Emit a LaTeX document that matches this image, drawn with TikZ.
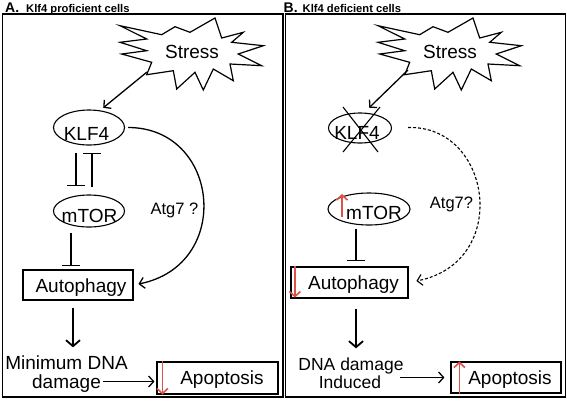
\documentclass[tikz,border=0pt]{standalone}
\usepackage{fontspec}
\setmainfont{Liberation Sans}
\usetikzlibrary{arrows.meta,shapes.geometric,calc}
\definecolor{redarr}{RGB}{218,82,72}
\newcommand\offtxt[3]{\makebox[0pt]{\hspace*{#1}\hspace*{#1}\raisebox{#2}{#3}}}
\tikzset{
  burst/.pic={\draw[line width=1.2pt, line join=miter]
    (-72,-26.3) -- (-30.3,-17.3) -- (-17,-25.3) -- (-2,-19.7) -- (23,-34) -- (29.7,-14)
    -- (51.3,-19.7) -- (39.7,-9.7) -- (71.3,-6.3) -- (46.3,2) -- (69.7,13.7) -- (38,12)
    -- (41.3,28.7) -- (21.3,17) -- (11.3,38) -- (3,20.3) -- (-15.3,37) -- (-18.7,18.7)
    -- (-45.3,22.7) -- (-40.3,10.3) -- (-70.3,2) -- (-45.3,-1.3) -- (-72,-9.7) -- (-45.3,-13) -- cycle;}
}
\begin{document}
\begin{tikzpicture}[x=1pt,y=-1pt,
  txt/.style={inner sep=0pt, font=\fontsize{19}{21}\selectfont, text height=13.7pt, text depth=0pt},
  smalltxt/.style={inner sep=0pt, font=\fontsize{17.5}{20}\selectfont, text height=12.5pt, text depth=0pt},
  atgtxt/.style={inner sep=0pt, font=\fontsize{16.5}{19}\selectfont, text height=11.8pt, text depth=0pt},
  ell/.style={txt, draw, ellipse, line width=1.1pt},
  box/.style={txt, draw, rectangle, line width=1.1pt},
  panel/.style={line width=1.2pt},
  title/.style={inner sep=0pt, anchor=base west, font=\bfseries\fontsize{11.2}{12}\selectfont},
  arr/.style={line width=1.3pt, -{Straight Barb[length=5pt,width=11pt]}},
  darr/.style={line width=1.8pt, -{Straight Barb[length=6pt,width=14pt]}},
  dasharr/.style={line width=1.1pt, dash pattern=on 3pt off 2pt, -{Straight Barb[length=5pt,width=11pt]}},
  inh/.style={line width=1.2pt, -{Bar[width=18pt]}},
  redup/.style={redarr, line width=1.6pt, -{Straight Barb[length=5pt,width=11pt]}}
]
\useasboundingbox (0,0) rectangle (567,400);

% panels and titles
\draw[panel] (2.5,14) rectangle (283,397);
\draw[panel] (285.5,14) rectangle (565.5,397);
\node[title] (titA) at (5,12) {{\fontsize{14}{14}\selectfont A.}\hspace{7pt}Klf4 proficient cells};
\node[title] (titB) at (283.5,12) {{\fontsize{14}{14}\selectfont B.}\hspace{5pt}Klf4 deficient cells};

% ---------------- Panel A ----------------
\node[txt] (stressA) at (192,52) {Stress};
\pic at (stressA.center) {burst};
\node[ell, minimum width=71pt, minimum height=35pt] (klfA) at (89,127.5) {\offtxt{-2.5pt}{-6pt}{KLF4}};
\node[ell, minimum width=71pt, minimum height=32pt] (mtorA) at (89,211) {\offtxt{0.5pt}{-5pt}{mTOR}};
\node[box, minimum width=110pt, minimum height=30pt] (autoA) at (78,285) {\offtxt{3pt}{-1pt}{Autophagy}};
\node[atgtxt] (atgA) at (174.5,209) {Atg7 ?};
\node[txt] (dnaA1) at (66.5,363) {Minimum DNA};
\node[txt] (dnaA2) at (66.5,381.5) {damage};
\node[box, minimum width=121pt, minimum height=32pt] (apopA) at (217.5,378) {\offtxt{4.5pt}{0pt}{Apoptosis}};

\draw[arr, shorten >=4pt] ($(stressA.center)+(-45,20)$) -- (klfA.57);
\draw[inh] ([xshift=-13pt,yshift=-7pt]klfA.south) -- ([xshift=-13pt,yshift=8pt]mtorA.north);
\draw[inh] ([xshift=3pt,yshift=7pt]mtorA.north) -- ([xshift=3pt,yshift=-7pt]klfA.south);
\draw[inh] ([xshift=-18pt,yshift=-5pt]mtorA.south) -- ([xshift=-7pt,yshift=3pt]autoA.north);
\draw[arr, shorten <=3pt, shorten >=5pt] (klfA.east) .. controls +(95,0) and +(100,-20) .. (autoA.east);
\draw[darr] ([xshift=-5pt,yshift=-7pt]autoA.south) -- ([xshift=6.5pt,yshift=8.6pt]dnaA1.north);
\draw[arr, shorten <=2pt, shorten >=2pt] (dnaA2.east) -- (dnaA2.east -| apopA.west);
\draw[redup] ([xshift=6pt]apopA.north west) -- ([xshift=6pt]apopA.south west);

% ---------------- Panel B ----------------
\node[txt] (stressB) at (450,52) {Stress};
\pic at (stressB.center) {burst};
\node[ell, minimum width=63pt, minimum height=30pt] (klfB) at (360,128) {\offtxt{-3pt}{-5pt}{KLF4}};
\draw[line width=1.1pt] ([shift={(-17,-21)}]klfB.center) -- ([shift={(18,24)}]klfB.center);
\draw[line width=1.1pt] ([shift={(20,-21)}]klfB.center) -- ([shift={(-17,24)}]klfB.center);
\node[ell, minimum width=82pt, minimum height=32pt] (mtorB) at (369,209) {\offtxt{5pt}{-3.5pt}{mTOR}};
\node[box, minimum width=117pt, minimum height=31pt] (autoB) at (349.5,282.5) {\offtxt{4pt}{-0.5pt}{Autophagy}};
\node[atgtxt] (atgB) at (451.5,203) {Atg7?};
\node[smalltxt] (dnaB1) at (351,364) {DNA damage};
\node[smalltxt] (dnaB2) at (350,382.7) {Induced};
\node[box, minimum width=110pt, minimum height=31pt] (apopB) at (506,377.5) {\offtxt{4pt}{0pt}{Apoptosis}};

\draw[arr, shorten >=7pt] ($(stressB.center)+(-42,18)$) -- (klfB.75);
\draw[dasharr, shorten <=16pt, shorten >=8pt] (klfB.east) .. controls +(100,-3) and +(103,-20) .. (autoB.east);
\draw[redup] ([shift={(-27,8)}]mtorB.center) -- ([shift={(-27,-15)}]mtorB.center);
\draw[inh] ([xshift=-13pt,yshift=-3pt]mtorB.south) -- ([xshift=6.5pt,yshift=5pt]autoB.north);
\draw[redup] ([xshift=4.5pt]autoB.north west) -- ([xshift=4.5pt,yshift=1pt]autoB.south west);
\draw[darr] ([xshift=6.5pt,yshift=-10pt]autoB.south) -- ([xshift=5pt,yshift=9.2pt]dnaB1.north);
\draw[arr, shorten <=19pt, shorten >=6pt] (apopB.west -| dnaB2.east) -- (apopB.west);
\draw[redup] ([xshift=9pt]apopB.south west) -- ([xshift=9pt]apopB.north west);
\end{tikzpicture}
\end{document}
